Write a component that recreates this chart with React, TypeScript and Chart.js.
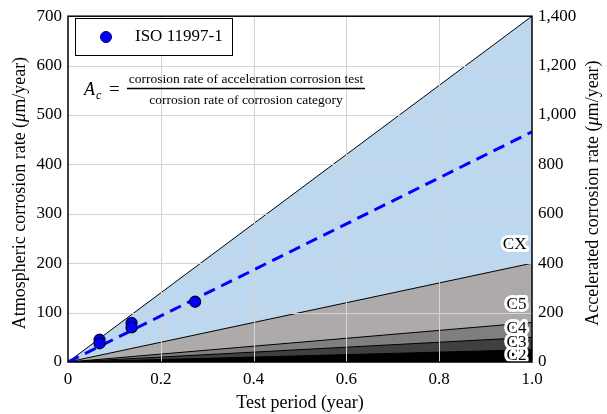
import { useEffect, useRef } from 'react';
import { Chart, registerables } from 'chart.js';

Chart.register(...registerables);

// ---- data ----
const categoryNames = ['C2', 'C3', 'C4', 'C5', 'CX'];
const categoryUpperRates = [25, 50, 80, 200, 700]; // μm/year reached at 1 year
const categoryColors = ['#000000', '#404040', '#7f7f7f', '#aeaaaa', '#bdd7ee'];
const categoryLabelY = [14, 40, 68, 117, 237];
const categoryLabelX = 0.988;

const isoPeriods = [0.068, 0.068, 0.137, 0.137, 0.274];
const isoRates = [45, 38, 79, 70, 122];

const fitPeriods = [0, 1.0];
const fitRates = [0, 466];

const xTicks = [0, 0.2, 0.4, 0.6, 0.8, 1.0];
const yLeftTicks = [0, 100, 200, 300, 400, 500, 600, 700];
const yRightTicks = [0, 200, 400, 600, 800, 1000, 1200, 1400];

const legendLabel = 'ISO 11997-1';
const xTitle = 'Test period (year)';
const numeratorText = 'corrosion rate of acceleration corrosion test';
const denominatorText = 'corrosion rate of corrosion category';

const FONT = "'Liberation Serif', 'Times New Roman', serif";

function drawSegments(ctx: CanvasRenderingContext2D, segs: [string, string][], x: number, y: number, align: 'center' | 'left') {
  let total = 0;
  for (const [t, f] of segs) { ctx.font = f; total += ctx.measureText(t).width; }
  let cx = align === 'center' ? x - total / 2 : x;
  ctx.textAlign = 'left';
  for (const [t, f] of segs) { ctx.font = f; ctx.fillText(t, cx, y); cx += ctx.measureText(t).width; }
}

const overlayPlugin = {
  id: 'overlay',
  afterDatasetDraw(chart: any, args: any) {
    if (args.index !== 2) return;
    const { ctx, chartArea: a, scales } = chart;
    ctx.save();
    ctx.strokeStyle = '#d4d4d4';
    ctx.lineWidth = 1;
    ctx.beginPath();
    for (const v of xTicks) {
      if (v === 0 || v === 1) continue;
      const px = Math.round(scales.x.getPixelForValue(v)) + 0.5;
      ctx.moveTo(px, a.top); ctx.lineTo(px, a.bottom);
    }
    for (const v of yLeftTicks) {
      if (v === 0 || v === 700) continue;
      const py = Math.round(scales.y.getPixelForValue(v)) + 0.5;
      ctx.moveTo(a.left, py); ctx.lineTo(a.right, py);
    }
    ctx.stroke();
    ctx.restore();
  },
  afterDatasetsDraw(chart: any) {
    const { ctx, scales } = chart;
    ctx.save();
    ctx.font = `17px ${FONT}`;
    ctx.textAlign = 'right';
    ctx.textBaseline = 'middle';
    ctx.lineJoin = 'round';
    categoryNames.forEach((n, i) => {
      const px = scales.x.getPixelForValue(categoryLabelX);
      const py = scales.y.getPixelForValue(categoryLabelY[i]);
      ctx.strokeStyle = '#ffffff';
      ctx.lineWidth = 6;
      ctx.strokeText(n, px, py);
      ctx.fillStyle = '#000000';
      ctx.fillText(n, px, py);
    });
    ctx.restore();
  },
  afterDraw(chart: any) {
    const { ctx, chartArea: a } = chart;
    ctx.save();
    // plot frame
    ctx.strokeStyle = '#000';
    ctx.lineWidth = 1.5;
    ctx.strokeRect(a.left, a.top, a.right - a.left, a.bottom - a.top);

    // legend box
    ctx.fillStyle = '#fff';
    ctx.fillRect(75, 18, 157, 37);
    ctx.lineWidth = 1;
    ctx.strokeRect(75.5, 18.5, 157, 37);
    ctx.beginPath();
    ctx.arc(106, 37, 5.5, 0, Math.PI * 2);
    ctx.fillStyle = '#0000ff';
    ctx.fill();
    ctx.strokeStyle = '#000066';
    ctx.stroke();
    ctx.fillStyle = '#000';
    ctx.font = `17px ${FONT}`;
    ctx.textAlign = 'left';
    ctx.textBaseline = 'middle';
    ctx.fillText(legendLabel, 135, 37);

    // formula
    ctx.textBaseline = 'alphabetic';
    ctx.font = `italic 18px ${FONT}`;
    ctx.fillText('A', 84, 95);
    ctx.font = `italic 12px ${FONT}`;
    ctx.fillText('c', 96, 99);
    ctx.font = `19px ${FONT}`;
    ctx.fillText('=', 109, 95);
    ctx.beginPath();
    ctx.lineWidth = 1.4;
    ctx.strokeStyle = '#000';
    ctx.moveTo(127, 88.5); ctx.lineTo(365, 88.5);
    ctx.stroke();
    ctx.font = `13.5px ${FONT}`;
    ctx.textAlign = 'center';
    ctx.fillText(numeratorText, 246, 83);
    ctx.fillText(denominatorText, 246, 104);

    // axis titles
    const reg = `18px ${FONT}`;
    const ita = `italic 18px ${FONT}`;
    ctx.textBaseline = 'middle';
    const cy = (a.top + a.bottom) / 2;
    ctx.save();
    ctx.translate(20, cy + 4);
    ctx.rotate(-Math.PI / 2);
    drawSegments(ctx, [['Atmospheric corrosion rate (', reg], ['μ', ita], ['m/year)', reg]], 0, 0, 'center');
    ctx.restore();
    ctx.save();
    ctx.translate(593, cy + 4);
    ctx.rotate(-Math.PI / 2);
    drawSegments(ctx, [['Accelerated corrosion rate (', reg], ['μ', ita], ['m/year)', reg]], 0, 0, 'center');
    ctx.restore();
    ctx.font = reg;
    ctx.textAlign = 'center';
    ctx.fillText(xTitle, (a.left + a.right) / 2, 403);
    ctx.restore();
  },
};

export default function App() {
  const ref = useRef<HTMLCanvasElement | null>(null);
  useEffect(() => {
    document.body.style.margin = '0';
    if (!ref.current) return;
    Chart.defaults.font.family = FONT;
    Chart.defaults.color = '#000';

    const areaSets = categoryNames.map((n, i) => ({
      type: 'line' as const,
      label: n,
      data: [{ x: 0, y: 0 }, { x: 1, y: categoryUpperRates[i] }],
      borderColor: '#000',
      borderWidth: 1,
      backgroundColor: categoryColors[i],
      fill: 'origin',
      pointRadius: 0,
      yAxisID: 'y',
    }));

    const chart = new Chart(ref.current, {
      type: 'line',
      data: {
        datasets: [
          {
            label: legendLabel,
            data: isoPeriods.map((p, i) => ({ x: p, y: isoRates[i] })),
            showLine: false,
            pointRadius: 5.5,
            pointBackgroundColor: '#0000ff',
            pointBorderColor: '#000033',
            pointBorderWidth: 1.3,
            yAxisID: 'y',
          },
          {
            label: 'fit',
            data: fitPeriods.map((p, i) => ({ x: p, y: fitRates[i] })),
            borderColor: '#0000ff',
            borderWidth: 3,
            borderDash: [12, 7],
            pointRadius: 0,
            fill: false,
            yAxisID: 'y',
          },
          ...areaSets,
        ] as any,
      },
      options: {
        responsive: false,
        animation: false,
        devicePixelRatio: 1,
        layout: { padding: { top: 14, left: 0, right: 0, bottom: 0 } },
        plugins: { legend: { display: false }, tooltip: { enabled: false } },
        scales: {
          x: {
            type: 'linear',
            min: 0,
            max: 1,
            afterBuildTicks: (s: any) => { s.ticks = xTicks.map((v) => ({ value: v })); },
            afterFit: (s: any) => { s.height = 52; },
            ticks: {
              font: { size: 17 },
              padding: 7,
              callback: (v: any) => (Number(v) === 0 ? '0' : Number(v).toFixed(1)),
            },
            grid: { display: false, drawTicks: false },
            border: { display: false },
          },
          y: {
            type: 'linear',
            position: 'left',
            min: 0,
            max: 700,
            afterBuildTicks: (s: any) => { s.ticks = yLeftTicks.map((v) => ({ value: v })); },
            afterFit: (s: any) => { s.width = 68; },
            ticks: { font: { size: 17 }, padding: 6, callback: (v: any) => String(v) },
            grid: { display: false, drawTicks: false },
            border: { display: false },
          },
          y2: {
            type: 'linear',
            position: 'right',
            min: 0,
            max: 1400,
            afterBuildTicks: (s: any) => { s.ticks = yRightTicks.map((v) => ({ value: v })); },
            afterFit: (s: any) => { s.width = 75; },
            ticks: { font: { size: 17 }, padding: 6, callback: (v: any) => Number(v).toLocaleString('en-US') },
            grid: { display: false, drawTicks: false },
            border: { display: false },
          },
        },
      },
      plugins: [overlayPlugin],
    } as any);
    return () => chart.destroy();
  }, []);
  return (
    <div style={{ width: 607, height: 414 }}>
      <canvas ref={ref} width={607} height={414} style={{ display: 'block' }} />
    </div>
  );
}
